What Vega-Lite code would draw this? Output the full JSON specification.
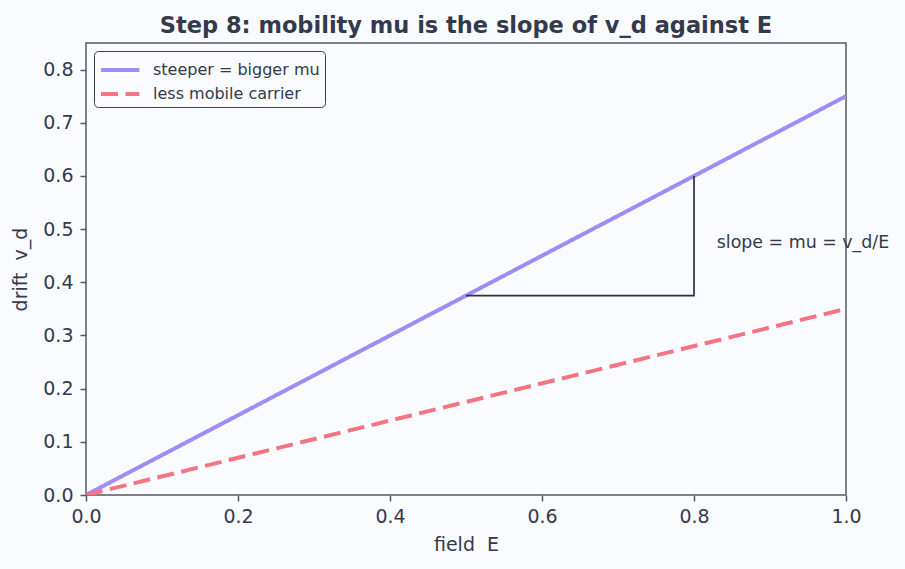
{
  "$schema": "https://vega.github.io/schema/vega-lite/v6.json",
  "width": 760,
  "height": 452,
  "autosize": {"type": "none"},
  "padding": {"left": 86, "top": 43, "right": 59, "bottom": 74},
  "background": "#fafbfe",
  "title": {
    "text": "Step 8: mobility mu is the slope of v_d against E",
    "font": "DejaVu Sans",
    "fontSize": 22.5,
    "fontWeight": "bold",
    "color": "#333a4d",
    "offset": 6,
    "anchor": "middle"
  },
  "config": {
    "view": {"stroke": "#555a66", "strokeWidth": 1.5, "fill": "#fafbfe"},
    "font": "DejaVu Sans",
    "axis": {
      "grid": false,
      "domain": false,
      "labelFlush": false,
      "tickColor": "#555a66",
      "tickWidth": 1.5,
      "tickSize": 6,
      "labelFont": "DejaVu Sans",
      "labelFontSize": 19,
      "labelColor": "#333a4d",
      "titleFont": "DejaVu Sans",
      "titleFontSize": 19,
      "titleFontWeight": "normal",
      "titleColor": "#333a4d"
    }
  },
  "datasets": {
    "lines": [
      {"series": "steeper = bigger mu", "E": 0.0, "v": 0.0},
      {"series": "steeper = bigger mu", "E": 1.0, "v": 0.75},
      {"series": "less mobile carrier", "E": 0.0, "v": 0.0},
      {"series": "less mobile carrier", "E": 1.0, "v": 0.35}
    ],
    "triangle": [
      {"order": 0, "E": 0.5, "v": 0.375},
      {"order": 1, "E": 0.8, "v": 0.375},
      {"order": 2, "E": 0.8, "v": 0.6}
    ],
    "note": [
      {"E": 0.83, "v": 0.474, "label": "slope = mu = v_d/E"}
    ]
  },
  "layer": [
    {
      "data": {"name": "lines"},
      "mark": {"type": "line", "strokeWidth": 4, "clip": true},
      "encoding": {
        "x": {
          "field": "E",
          "type": "quantitative",
          "scale": {"domain": [0, 1], "nice": false, "zero": false},
          "axis": {"title": "field\u00a0 E", "values": [0, 0.2, 0.4, 0.6, 0.8, 1.0], "format": ".1f", "titlePadding": 9, "labelPadding": 6}
        },
        "y": {
          "field": "v",
          "type": "quantitative",
          "scale": {"domain": [0, 0.85], "nice": false},
          "axis": {"title": "drift\u00a0 v_d", "values": [0, 0.1, 0.2, 0.3, 0.4, 0.5, 0.6, 0.7, 0.8], "format": ".1f", "titlePadding": 12, "labelPadding": 7}
        },
        "color": {
          "field": "series",
          "type": "nominal",
          "scale": {
            "domain": ["steeper = bigger mu", "less mobile carrier"],
            "range": ["#a18cf5", "#f47483"]
          },
          "legend": {
            "title": null,
            "orient": "top-left",
            "offset": 8,
            "symbolType": "M-1,0H2.2",
            "symbolSize": 576,
            "symbolStrokeWidth": 4,
            "symbolFillColor": "transparent",
            "labelFont": "DejaVu Sans",
            "labelFontSize": 16,
            "labelColor": "#333a4d",
            "labelLimit": 400,
            "labelOffset": 26,
            "rowPadding": 2,
            "padding": 5,
            "strokeColor": "#3a3f55",
            "fillColor": "#fafbfe",
            "cornerRadius": 4
          }
        },
        "strokeDash": {
          "field": "series",
          "type": "nominal",
          "scale": {
            "domain": ["steeper = bigger mu", "less mobile carrier"],
            "range": [[1, 0], [17, 7.5]]
          },
          "legend": null
        }
      }
    },
    {
      "data": {"name": "triangle"},
      "mark": {"type": "line", "color": "#2a3045", "strokeWidth": 1.7},
      "encoding": {
        "x": {"field": "E", "type": "quantitative"},
        "y": {"field": "v", "type": "quantitative"},
        "order": {"field": "order", "type": "quantitative"}
      }
    },
    {
      "data": {"name": "note"},
      "mark": {"type": "text", "align": "left", "baseline": "middle", "font": "DejaVu Sans", "fontSize": 17.4, "color": "#333a4d"},
      "encoding": {
        "x": {"field": "E", "type": "quantitative"},
        "y": {"field": "v", "type": "quantitative"},
        "text": {"field": "label"}
      }
    }
  ]
}
